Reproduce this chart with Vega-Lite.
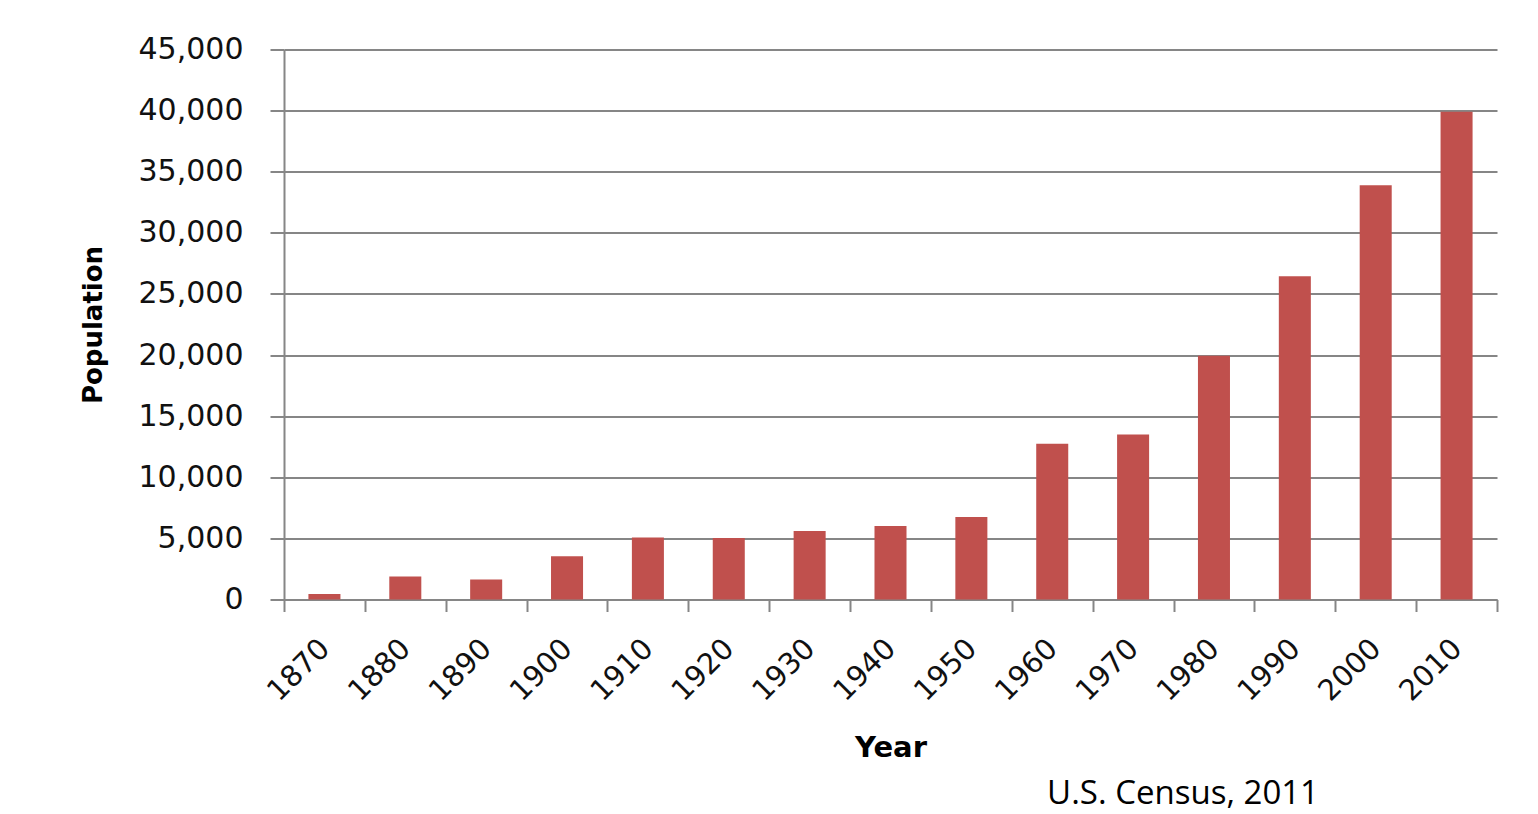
{
  "$schema": "https://vega.github.io/schema/vega-lite/v6.json",
  "width": 1213,
  "height": 550,
  "autosize": {"type": "none"},
  "padding": {"left": 284, "top": 49.5, "right": 41, "bottom": 214.5},
  "background": "white",
  "config": {"view": {"stroke": null}, "font": "DejaVu Sans"},
  "title": {
    "text": "U.S. Census, 2011",
    "orient": "bottom",
    "anchor": "end",
    "frame": "group",
    "font": "Open Sans",
    "fontSize": 33,
    "fontWeight": "normal",
    "color": "#000000",
    "dx": -178,
    "offset": 16
  },
  "data": {
    "values": [
      {"year": "1870", "population": 450},
      {"year": "1880", "population": 1880},
      {"year": "1890", "population": 1630},
      {"year": "1900", "population": 3540},
      {"year": "1910", "population": 5080},
      {"year": "1920", "population": 5030},
      {"year": "1930", "population": 5600},
      {"year": "1940", "population": 6020},
      {"year": "1950", "population": 6760},
      {"year": "1960", "population": 12750},
      {"year": "1970", "population": 13500},
      {"year": "1980", "population": 19950},
      {"year": "1990", "population": 26450},
      {"year": "2000", "population": 33900},
      {"year": "2010", "population": 39900}
    ]
  },
  "mark": {"type": "bar", "color": "#C0504D", "width": {"band": 0.396}},
  "encoding": {
    "x": {
      "field": "year",
      "type": "ordinal",
      "scale": {"type": "band", "paddingInner": 0, "paddingOuter": 0},
      "axis": {
        "title": "Year",
        "titleFont": "DejaVu Sans",
        "titleFontSize": 29,
        "titleFontWeight": "bold",
        "titleColor": "#000000",
        "titlePadding": 27,
        "labelAngle": -45,
        "labelAlign": "right",
        "labelBaseline": "middle",
        "labelFont": "DejaVu Sans",
        "labelFontSize": 29,
        "labelColor": "#111111",
        "labelPadding": 32,
        "tickBand": "extent",
        "tickSize": 12,
        "tickColor": "#868686",
        "tickWidth": 2,
        "domainColor": "#868686",
        "domainWidth": 2,
        "grid": false
      }
    },
    "y": {
      "field": "population",
      "type": "quantitative",
      "scale": {"domain": [0, 45000], "nice": false},
      "axis": {
        "title": "Population",
        "titleFont": "DejaVu Sans",
        "titleFontSize": 26,
        "titleFontWeight": "bold",
        "titleColor": "#000000",
        "titlePadding": 32,
        "labelFont": "DejaVu Sans",
        "labelFontSize": 30,
        "labelColor": "#111111",
        "labelPadding": 27,
        "tickSize": 14,
        "tickColor": "#868686",
        "tickWidth": 2,
        "domainColor": "#868686",
        "domainWidth": 2,
        "gridColor": "#868686",
        "gridWidth": 2,
        "format": ",d",
        "values": [0, 5000, 10000, 15000, 20000, 25000, 30000, 35000, 40000, 45000]
      }
    }
  }
}
